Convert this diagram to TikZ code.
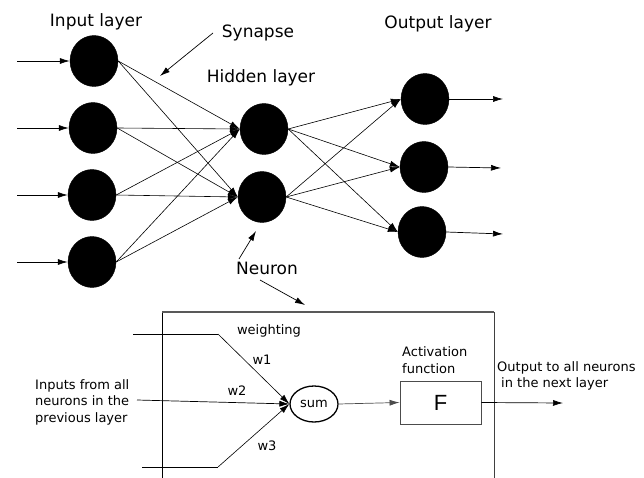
\documentclass[tikz,border=0pt]{standalone}
\usepackage{fontspec}
\setmainfont{DejaVu Sans}
\newfontfamily\arialfont{Liberation Sans}
\usetikzlibrary{arrows.meta,shapes.geometric}

\begin{document}
\begin{tikzpicture}[x=1pt,y=-1pt,
  neuron/.style={ellipse,fill=black,draw=black,inner sep=0pt,minimum width=48pt,minimum height=51pt},
  biglabel/.style={font=\fontsize{17}{20}\selectfont,inner sep=0pt},
  smalllabel/.style={font=\fontsize{13}{16.5}\selectfont,inner sep=0pt},
  syn/.style={line width=0.6pt,-{Latex[length=10pt,width=6pt]}},
  arr/.style={line width=0.7pt,-{Latex[length=10pt,width=6pt]}},
  frame/.style={line width=1.2pt,draw=black!65}
]
\useasboundingbox (0,0) rectangle (644,478);

% layers of neurons
\node[neuron] (in1) at (94,61) {};
\node[neuron] (in2) at (93,128) {};
\node[neuron] (in3) at (92,195) {};
\node[neuron] (in4) at (92,262) {};
\node[neuron] (h1) at (264,129) {};
\node[neuron] (h2) at (262,197) {};
\node[neuron] (o1) at (425,99) {};
\node[neuron] (o2) at (424,167) {};
\node[neuron] (o3) at (422,232) {};

% external inputs and outputs
\foreach \i/\y in {1/61,2/128,3/195,4/262}
  \coordinate (src\i) at (17,\y);
\foreach \i in {1,...,4}
  \draw[arr] (src\i) -- (in\i.west);
\coordinate (dst1) at (503,99);
\coordinate (dst2) at (501,168);
\coordinate (dst3) at (503,234);
\foreach \i in {1,2,3}
  \draw[arr] (o\i.east) -- (dst\i);

% synapses
\foreach \i in {1,...,4}
  \foreach \j in {1,2}
    \draw[syn] (in\i.east) -- (h\j.west);
\foreach \j in {1,2}
  \foreach \k in {1,2,3}
    \draw[syn] (h\j.east) -- (o\k.west);

% layer captions
\node[biglabel] (lin) at (96,22) {Input layer};
\node[biglabel] (lsyn) at (258,33) {Synapse};
\node[biglabel] (lhid) at (261,78) {Hidden layer};
\node[biglabel] (lout) at (438,24) {Output layer};
\node[biglabel] (lneu) at (267,268) {Neuron};

\coordinate (synA) at (213,33);
\coordinate (synB) at (160,76);
\draw[arr] (synA) -- (synB);
\coordinate (neuA) at (239,259);
\coordinate (neuB) at (256,231);
\draw[arr] (neuA) -- (neuB);
\coordinate (boxA) at (260,280);
\coordinate (boxB) at (305,305);
\draw[arr] (boxA) -- (boxB);

% enlarged neuron
\coordinate (fbl) at (162,478);
\coordinate (ftl) at (162,312);
\coordinate (ftr) at (494,312);
\coordinate (fbr) at (494,478);
\draw[line width=0.8pt] (fbl) -- (ftl);
\draw[frame] (ftl) -- (ftr);
\draw[line width=0.9pt,draw=black!75] (ftr) -- (fbr);

\node[ellipse,draw,line width=1.3pt,minimum width=48pt,minimum height=36pt,inner sep=0pt,
      font=\fontsize{13}{16}\selectfont] (sum) at (314,404) {sum};
\node[draw=black!70,line width=0.9pt,minimum width=81pt,minimum height=43pt,inner sep=0pt,
      font=\arialfont\fontsize{22}{24}\selectfont] (F) at (440.5,402.5) {F};

\coordinate (x1) at (133,334);
\coordinate (x1b) at (218,334);
\coordinate (x2) at (137,400);
\coordinate (x3) at (142,467);
\coordinate (x3b) at (218,467);
\draw[line width=0.6pt] (x1) -- (x1b);
\draw[line width=0.6pt] (x3) -- (x3b);
\draw[syn] (x1b) -- (sum.west);
\draw[arr] (x2) -- (sum.west);
\draw[syn] (x3b) -- (sum.west);

\draw[arr,draw=black!70] (sum.east) -- (F.west);
\coordinate (yout) at (563,403);
\draw[arr] (F.east) -- (yout);

\node[smalllabel] (lw) at (269,331) {weighting};
\node[smalllabel] (lw1) at (262,360) {w1};
\node[smalllabel] (lw2) at (237,391) {w2};
\node[smalllabel] (lw3) at (267,446) {w3};
\node[smalllabel,align=left,anchor=west] (lact) at (402,360) {Activation\\function};
\node[smalllabel,align=left,anchor=west] (lres) at (497,376) {Output to all neurons\\\hspace{4pt}in the next layer};
\node[smalllabel,align=left,anchor=west] (linp) at (35,402) {Inputs from all\\neurons in the\\previous layer};
\end{tikzpicture}
\end{document}
